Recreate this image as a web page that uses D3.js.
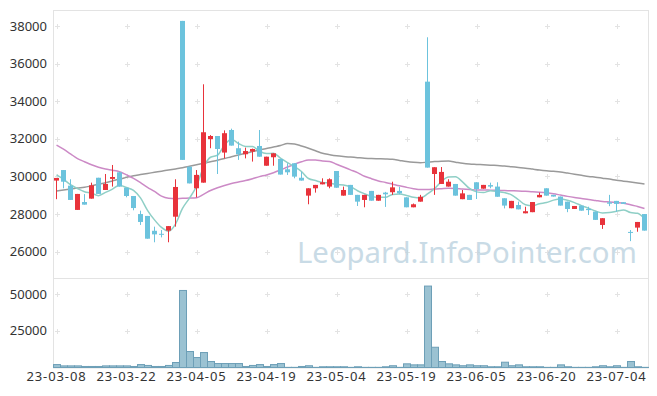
<!DOCTYPE html>
<html>
<head>
<meta charset="utf-8">
<script src="https://cdn.jsdelivr.net/npm/d3@7"></script>
<style>
  html, body { margin: 0; padding: 0; background: #fff; }
  svg { display: block; font-family: "Noto Sans", sans-serif; }
</style>
</head>
<body>
<div id="chart"></div>
<script>
// trading days shown on the chart
const dates = [
  "23-03-08","23-03-09","23-03-10","23-03-13","23-03-14","23-03-15","23-03-16","23-03-17","23-03-20","23-03-21",
  "23-03-22","23-03-23","23-03-24","23-03-27","23-03-28","23-03-29","23-03-30","23-03-31","23-04-03","23-04-04",
  "23-04-05","23-04-06","23-04-07","23-04-10","23-04-11","23-04-12","23-04-13","23-04-14","23-04-17","23-04-18",
  "23-04-19","23-04-20","23-04-21","23-04-24","23-04-25","23-04-26","23-04-27","23-04-28","23-05-02","23-05-03",
  "23-05-04","23-05-08","23-05-09","23-05-10","23-05-11","23-05-12","23-05-15","23-05-16","23-05-17","23-05-18",
  "23-05-19","23-05-22","23-05-23","23-05-24","23-05-25","23-05-26","23-05-30","23-05-31","23-06-01","23-06-02",
  "23-06-05","23-06-07","23-06-08","23-06-09","23-06-12","23-06-13","23-06-14","23-06-15","23-06-16","23-06-19",
  "23-06-20","23-06-21","23-06-22","23-06-23","23-06-26","23-06-27","23-06-28","23-06-29","23-06-30","23-07-03",
  "23-07-04","23-07-05","23-07-06","23-07-07","23-07-10"
];

const opens = [
  29780,30340,29510,28220,28640,28820,29930,29280,29870,30220,
  29400,28960,28000,27900,27110,26950,27120,27860,38270,30520,
  29370,29670,31980,32150,31270,32470,31500,31180,31320,31620,
  30570,31020,30930,30380,30700,29930,28980,29370,29580,29460,
  30290,28980,29550,29020,28750,29230,28710,29140,29160,29230,
  28890,28360,28660,35040,30130,29600,29460,29600,28790,29020,
  29690,29350,29540,29460,28840,28310,28480,28040,28100,28890,
  29370,29020,28930,28660,28270,28450,28270,28130,27420,28620,
  28700,28630,27050,27280,28000
];
const highs = [
  29920,30340,29850,29070,29060,29670,29930,30130,30610,30250,
  29400,28960,28180,27900,27330,27150,27360,29850,38270,30520,
  30340,34900,32200,32150,32450,32540,31850,31530,31480,32470,
  31050,31230,30930,30700,30700,30250,29370,29550,29900,29900,
  30290,29460,29550,29020,29020,29230,29020,29180,29720,29450,
  28890,28560,29020,37400,30490,30500,29850,29600,29280,29020,
  29690,29550,29670,29690,28840,28700,28660,28390,28640,29140,
  29370,29020,28930,28660,28430,28450,28390,28130,27780,29020,
  28700,28630,27150,27580,28000
];
const lows = [
  28790,29370,28750,28220,28500,28820,29070,29280,29460,29460,
  28890,28200,27420,26690,26500,26760,26500,27330,30880,29630,
  28890,29670,31500,30130,30960,31640,30880,30960,30790,31050,
  30570,30570,30100,30080,29900,29780,28520,29140,29580,29370,
  29400,28980,29020,28430,28360,28710,28710,28380,29020,29050,
  28360,28360,28660,30470,29020,29600,29460,28980,28790,28750,
  28800,29350,29370,28920,28300,28310,28250,28040,28100,28890,
  28980,28930,28450,28100,28270,28180,27950,27690,27210,28420,
  28130,28540,26560,27060,27120
];
const closes = [
  29920,29720,28750,29070,28500,29530,29070,29600,29970,29460,
  28960,28320,27580,26690,26920,26920,27360,29440,30880,29630,
  30080,32350,32150,31460,32300,31640,31180,31350,31460,31050,
  31050,31230,30100,30220,29990,29780,29370,29550,29690,29850,
  29400,29280,29020,28660,29020,28710,29020,29050,29420,29100,
  28360,28520,28920,30470,30490,30240,29720,28980,29100,28750,
  29330,29550,29460,28920,28450,28700,28250,28150,28640,29020,
  28980,28930,28450,28270,28430,28180,28210,27690,27780,28550,
  28540,28540,27000,27580,27120
];
const volumes = [
  2000,1100,1100,1100,700,700,700,1100,1100,1100,
  1100,700,2000,1400,700,700,1400,3400,52500,10900,
  6800,10200,4100,2700,2700,2700,2700,700,1400,2000,
  700,2000,2700,100,100,700,1200,100,500,500,
  500,500,100,500,100,100,100,500,1200,100,
  2500,1800,1800,55500,13800,4100,2500,1800,1200,1800,
  1200,1200,500,500,3600,1200,1800,500,500,500,
  100,100,1800,500,100,100,100,500,1200,500,
  1200,100,4100,500,100
];
// moving averages as drawn (5, 20, 60 days)
const ma5 = [
  30080,29850,29560,29350,29190,29110,28980,29150,29330,29530,
  29410,29260,28860,28200,27690,27290,27090,27470,28300,28850,
  29480,30480,31020,31130,31670,31980,31750,31590,31590,31340,
  31220,31230,30980,30730,30520,30260,29890,29780,29680,29650,
  29570,29550,29450,29240,29080,28940,28890,28890,29040,29060,
  28990,28890,28860,29070,29350,29730,29970,29980,29710,29360,
  29180,29140,29240,29200,29140,29020,28760,28490,28440,28550,
  28610,28740,28800,28730,28610,28450,28310,28160,28060,28080,
  28150,28220,28080,28040,27760
];
const ma20 = [
  31670,31450,31200,30950,30780,30620,30490,30390,30330,30250,
  30080,29900,29670,29420,29200,28950,28840,28820,28840,28850,
  28870,29050,29250,29400,29520,29620,29700,29780,29880,29990,
  30080,30200,30340,30500,30650,30780,30880,30880,30820,30800,
  30650,30500,30350,30200,30010,29880,29760,29680,29590,29500,
  29420,29350,29300,29300,29330,29350,29370,29360,29330,29310,
  29280,29280,29270,29260,29250,29240,29230,29210,29180,29160,
  29130,29080,29010,28940,28880,28830,28770,28720,28670,28640,
  28610,28580,28500,28400,28300
];
const ma60 = [
  29230,29280,29330,29380,29420,29500,29580,29660,29760,29860,
  29950,30040,30100,30160,30220,30280,30340,30400,30460,30540,
  30620,30700,30780,30860,30950,31050,31140,31230,31320,31410,
  31490,31570,31640,31750,31730,31620,31500,31370,31230,31160,
  31100,31060,31030,31000,30970,30950,30940,30930,30910,30850,
  30790,30750,30730,30760,30790,30810,30820,30760,30700,30660,
  30640,30620,30600,30580,30560,30520,30480,30440,30390,30340,
  30300,30270,30240,30180,30120,30060,30000,29960,29910,29860,
  29800,29750,29700,29650,29600
];
const priceTicks = [26000, 28000, 30000, 32000, 34000, 36000, 38000];
const volumeTicks = [25000, 50000];
const dateTicks = ["23-03-08","23-03-22","23-04-05","23-04-19","23-05-04","23-05-19","23-06-05","23-06-20","23-07-04"];

const width = 657;
const height = 396;
const left = 53, right = 648;
const priceTop = 10, priceBottom = 278;
const volTop = 278, volBottom = 367.5;

const UP = "#e8333b";
const DOWN = "#6cc3dd";
const FRAME = "#e3e3e3";

const svg = d3.select("#chart")
  .append("svg")
  .attr("width", width)
  .attr("height", height);

const x = d3.scaleBand().domain(dates).range([left, right]).padding(0);
const xc = d => x(d) + x.bandwidth() / 2;
const y = d3.scaleLinear().domain([24600, 38850]).range([priceBottom, priceTop]);
const yv = d3.scaleLinear().domain([0, 61000]).range([volBottom, volTop]);

// frame
svg.append("rect")
  .attr("x", left + 0.5).attr("y", priceTop + 0.5)
  .attr("width", right - left).attr("height", volBottom - priceTop)
  .attr("fill", "none").attr("stroke", FRAME);
svg.append("line")
  .attr("x1", left).attr("x2", right)
  .attr("y1", volTop + 0.5).attr("y2", volTop + 0.5)
  .attr("stroke", FRAME);

// "+" grid marks
const plus = (g, px, py) => {
  g.append("line").attr("x1", px - 2.5).attr("x2", px + 2.5).attr("y1", py).attr("y2", py);
  g.append("line").attr("x1", px).attr("x2", px).attr("y1", py - 2.5).attr("y2", py + 2.5);
};
const marks = svg.append("g").attr("stroke", "#e3e3e3").attr("stroke-width", 1);
dateTicks.forEach(d => {
  const px = Math.round(xc(d)) + 0.5;
  priceTicks.forEach(t => plus(marks, px, Math.round(y(t)) + 0.5));
  volumeTicks.forEach(t => plus(marks, px, Math.round(yv(t)) + 0.5));
});

// axes labels
const yAxis = d3.axisLeft(y).tickValues(priceTicks).tickSize(0).tickPadding(6).tickFormat(d3.format("d"));
const yvAxis = d3.axisLeft(yv).tickValues(volumeTicks).tickSize(0).tickPadding(6).tickFormat(d3.format("d"));
const xAxis = d3.axisBottom(x).tickValues(dateTicks).tickSize(0).tickPadding(4);

[[yAxis, `translate(${left},0)`, 0], [yvAxis, `translate(${left},0)`, 0], [xAxis, `translate(0,${volBottom})`, 0.9]]
  .forEach(([axis, tr, ls]) => {
    const g = svg.append("g").attr("transform", tr).call(axis);
    g.select(".domain").remove();
    g.selectAll("text")
      .attr("fill", "#333")
      .style("font-size", "13px")
      .style("letter-spacing", ls + "px")
      .style("font-family", "'Noto Sans', sans-serif");
  });

// moving averages (under the candles)
const maLine = arr => d3.line()
  .x((d, i) => xc(dates[i]))
  .y(d => y(d))
  .curve(d3.curveMonotoneX)(arr);

svg.append("path").attr("d", maLine(ma60)).attr("fill", "none").attr("stroke", "#9a9a9a").attr("stroke-width", 1.5);
svg.append("path").attr("d", maLine(ma20)).attr("fill", "none").attr("stroke", "#cc8ac6").attr("stroke-width", 1.5);
svg.append("path").attr("d", maLine(ma5)).attr("fill", "none").attr("stroke", "#8fcfc6").attr("stroke-width", 1.5);

// candles
const candles = svg.append("g")
  .selectAll("g")
  .data(dates.map((d, i) => ({ d, o: opens[i], h: highs[i], l: lows[i], c: closes[i] })))
  .enter()
  .append("g");

candles.append("line")
  .attr("x1", d => Math.floor(xc(d.d)) + 0.5)
  .attr("x2", d => Math.floor(xc(d.d)) + 0.5)
  .attr("y1", d => y(d.h))
  .attr("y2", d => y(d.l))
  .attr("stroke", d => d.c >= d.o ? UP : DOWN)
  .attr("stroke-width", 1);

candles.append("rect")
  .attr("x", d => Math.floor(xc(d.d)) - 2)
  .attr("width", 5)
  .attr("y", d => y(Math.max(d.o, d.c)))
  .attr("height", d => Math.max(1, Math.abs(y(d.o) - y(d.c))))
  .attr("fill", d => d.c >= d.o ? UP : DOWN);

// volume bars
svg.append("g")
  .selectAll("rect")
  .data(volumes)
  .enter()
  .append("rect")
  .attr("x", (v, i) => x(dates[i]) + 0.5)
  .attr("width", x.bandwidth())
  .attr("y", v => yv(v))
  .attr("height", v => volBottom - yv(v))
  .attr("fill", "#9bc2d2")
  .attr("stroke", "#6d9fb7")
  .attr("stroke-width", 1);

// watermark
const wm = svg.append("text")
  .attr("x", 297)
  .attr("y", 263)
  .attr("fill", "#bcd3e0")
  .attr("opacity", 0.8)
  .style("font-family", "'Noto Sans', sans-serif")
  .style("font-size", "30px")
  .text("Leopard.InfoPointer.com");
const w = wm.node().getComputedTextLength();
wm.style("font-size", (30 * 340 / w).toFixed(2) + "px");
</script>
</body>
</html>
